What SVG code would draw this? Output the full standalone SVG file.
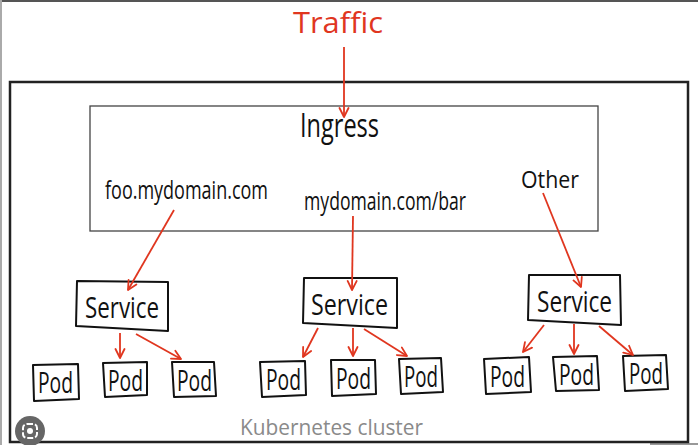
<svg xmlns="http://www.w3.org/2000/svg" width="698" height="445" viewBox="0 0 698 445">
<style>
.hand{font-family:"Open Sans","Liberation Sans",sans-serif;fill:#111}
.red{fill:#e0361f}
.box{fill:#fff;stroke:#111;stroke-width:2;stroke-linejoin:round}
.conn{stroke:#e0361f;stroke-width:1.8;fill:none;marker-end:url(#ah)}
</style>
<defs>
<marker id="ah" viewBox="0 0 12 12" refX="10" refY="6" markerWidth="12" markerHeight="12" markerUnits="userSpaceOnUse" orient="auto">
<path d="M1,1.5 L10,6 L1,10.5" fill="none" stroke="#e0361f" stroke-width="1.8" stroke-linecap="round" stroke-linejoin="round"/>
</marker>
</defs>
<rect width="698" height="445" fill="#fff"/>
<rect x="0" y="0" width="698" height="2" fill="#555"/>
<rect x="0" y="0" width="2" height="445" fill="#aaa"/>
<rect x="650" y="443" width="48" height="2" fill="#999"/>

<g id="cluster">
<rect x="10" y="82" width="678" height="360" fill="none" stroke="#222" stroke-width="2.5"/>
<text class="hand" x="240" y="435" font-size="22" textLength="183" lengthAdjust="spacingAndGlyphs" style="fill:#8a8a8a">Kubernetes cluster</text>
</g>

<g id="traffic">
<text class="hand red" x="293" y="33" font-size="30" textLength="90" lengthAdjust="spacingAndGlyphs">Traffic</text>
</g>

<g id="ingress">
<rect x="90" y="106" width="508" height="125" fill="#fff" stroke="#444" stroke-width="1.3"/>
<text class="hand" x="300" y="137" font-size="33" textLength="79" lengthAdjust="spacingAndGlyphs">Ingress</text>
<text class="hand" x="105" y="199" font-size="25" textLength="163" lengthAdjust="spacingAndGlyphs">foo.mydomain.com</text>
<text class="hand" x="304" y="210" font-size="25" textLength="162" lengthAdjust="spacingAndGlyphs">mydomain.com/bar</text>
<text class="hand" x="521" y="188" font-size="24" textLength="58" lengthAdjust="spacingAndGlyphs">Other</text>
</g>

<g id="service1">
<path class="box" d="M77,281 L168,282 L168,331 L76,326 Z"/>
<text class="hand" x="85" y="318" font-size="30" textLength="74" lengthAdjust="spacingAndGlyphs">Service</text>
</g>
<g id="service2">
<path class="box" d="M304,278 L397,278 L397,328 L303,323 Z"/>
<text class="hand" x="311" y="315" font-size="30" textLength="77" lengthAdjust="spacingAndGlyphs">Service</text>
</g>
<g id="service3">
<path class="box" d="M529,275 L620,275 L621,325 L528,320 Z"/>
<text class="hand" x="537" y="312" font-size="30" textLength="75" lengthAdjust="spacingAndGlyphs">Service</text>
</g>

<g id="pod1"><path class="box" d="M33,365 L78,364 L79,399 L34,401 Z"/><text class="hand" x="38" y="393" font-size="29" textLength="35" lengthAdjust="spacingAndGlyphs">Pod</text></g>
<g id="pod2"><path class="box" d="M103,363 L147,362 L147,395 L105,397 Z"/><text class="hand" x="108" y="391" font-size="29" textLength="35" lengthAdjust="spacingAndGlyphs">Pod</text></g>
<g id="pod3"><path class="box" d="M172,362 L214,362 L216,396 L174,397 Z"/><text class="hand" x="177" y="391" font-size="29" textLength="35" lengthAdjust="spacingAndGlyphs">Pod</text></g>
<g id="pod4"><path class="box" d="M260,362 L305,361 L306,395 L262,397 Z"/><text class="hand" x="266" y="390" font-size="29" textLength="35" lengthAdjust="spacingAndGlyphs">Pod</text></g>
<g id="pod5"><path class="box" d="M331,360 L375,360 L376,394 L332,396 Z"/><text class="hand" x="336" y="389" font-size="29" textLength="35" lengthAdjust="spacingAndGlyphs">Pod</text></g>
<g id="pod6"><path class="box" d="M399,359 L441,358 L443,392 L401,394 Z"/><text class="hand" x="404" y="387" font-size="29" textLength="34" lengthAdjust="spacingAndGlyphs">Pod</text></g>
<g id="pod7"><path class="box" d="M484,359 L529,357 L531,392 L486,394 Z"/><text class="hand" x="490" y="387" font-size="29" textLength="35" lengthAdjust="spacingAndGlyphs">Pod</text></g>
<g id="pod8"><path class="box" d="M553,357 L597,356 L599,390 L556,391 Z"/><text class="hand" x="559" y="385" font-size="29" textLength="35" lengthAdjust="spacingAndGlyphs">Pod</text></g>
<g id="pod9"><path class="box" d="M623,356 L666,355 L668,389 L625,391 Z"/><text class="hand" x="629" y="384" font-size="29" textLength="34" lengthAdjust="spacingAndGlyphs">Pod</text></g>

<g id="connectors">
<line class="conn" x1="344" y1="47" x2="344" y2="117"/>
<line class="conn" x1="174" y1="210" x2="128" y2="290"/>
<line class="conn" x1="353" y1="216" x2="352" y2="290"/>
<line class="conn" x1="543" y1="193" x2="581" y2="287"/>
<line class="conn" x1="120" y1="333" x2="120" y2="358"/>
<line class="conn" x1="136" y1="334" x2="181" y2="359"/>
<line class="conn" x1="318" y1="328" x2="303" y2="357"/>
<line class="conn" x1="353" y1="328" x2="353" y2="356"/>
<line class="conn" x1="364" y1="329" x2="407" y2="356"/>
<line class="conn" x1="544" y1="325" x2="523" y2="352"/>
<line class="conn" x1="574" y1="324" x2="574" y2="354"/>
<line class="conn" x1="599" y1="326" x2="633" y2="355"/>
</g>

<g id="lens">
<circle cx="30" cy="431" r="15" fill="#666"/>
<rect x="23" y="424" width="14" height="14" rx="4" fill="none" stroke="#fff" stroke-width="2" stroke-dasharray="6 2"/>
<circle cx="30" cy="431" r="3" fill="#fff"/>
</g>
</svg>
